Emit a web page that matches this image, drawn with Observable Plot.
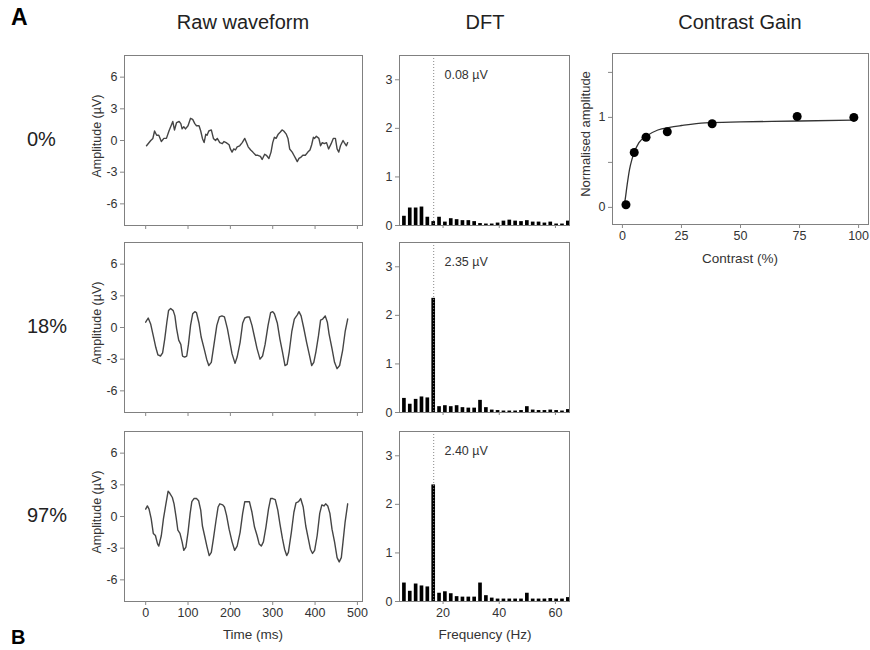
<!DOCTYPE html>
<html><head><meta charset="utf-8">
<script src="https://cdn.jsdelivr.net/npm/d3@7"></script>
<script src="https://cdn.jsdelivr.net/npm/@observablehq/plot@0.6"></script>
<style>
body{margin:0;background:#fff;font-family:"Liberation Sans",Arial,sans-serif;}
#root{position:relative;width:870px;height:650px;overflow:hidden;background:#fff;}
.t{position:absolute;color:#222;white-space:nowrap;line-height:1;}
.c{transform:translate(-50%,-50%);}
.r{transform:translate(-50%,-50%) rotate(-90deg);}
svg{position:absolute;}
</style></head><body><div id="root"></div>
<script>
// ---------- data ----------
const conditions = ["0%", "18%", "97%"];
const waveTicksX = [0, 100, 200, 300, 400, 500];
const waveTicksY = [-6, -3, 0, 3, 6];
const dftTicksX = [20, 40, 60];
const dftTicksY = [0, 1, 2, 3];
const cgTicksX = [0, 25, 50, 75, 100];
const cgTicksY = [0, 0.5, 1, 1.5];

// raw waveform 0%
const t0 = [2,12,17,21,26,31,37,43,49,55,60,64,68,73,79,83,86,90,94,100,106,111,116,120,126,130,134,138,142,145,149,155,160,165,169,175,181,185,190,197,200,204,208,212,216,222,228,234,238,242,248,253,260,265,271,275,281,285,291,296,300,304,308,313,318,322,326,332,336,340,346,350,354,358,362,366,371,377,383,388,392,396,399,403,409,413,417,422,427,432,438,443,448,452,456,460,466,469,474,477];
const v0 = [-0.5,0.0,0.2,0.9,0.5,0.5,-0.1,0.2,0.2,0.9,1.4,1.8,1.0,1.7,1.8,1.6,1.1,1.3,1.1,1.4,2.1,2.0,1.6,1.4,1.4,0.9,0.2,-0.2,0.6,0.5,0.9,1.0,0.2,0.0,0.2,-0.2,-0.3,-0.1,-0.2,-0.4,-0.8,-1.1,-0.8,-0.9,-0.6,-0.5,-0.2,0.2,-0.2,-0.6,-0.9,-1.1,-1.4,-1.4,-1.5,-1.8,-1.3,-1.4,-1.7,-1.1,-0.2,0.3,0.2,0.6,0.8,1.0,0.9,0.6,0.2,-0.8,-1.1,-1.4,-1.7,-2.0,-1.7,-1.6,-1.4,-1.4,-1.1,-0.9,-0.4,0.3,0.2,0.4,0.2,-0.5,-0.2,-0.3,-0.2,-0.8,-0.3,0.2,0.2,-0.8,-1.1,-0.5,0.0,-0.2,-0.5,-0.2];
// raw waveform 18%
const t18 = [0,6,12,18,24,29,35,40,45,50,54,59,65,69,73,78,83,87,92,97,101,106,111,116,120,126,131,138,144,149,155,161,168,174,180,186,193,199,204,211,216,223,229,234,240,245,251,257,263,270,276,282,289,295,300,304,311,317,323,329,334,339,345,351,358,362,367,373,380,386,392,397,402,408,413,418,424,429,433,440,446,452,458,465,471,477];
const v18 = [0.5,0.9,0.3,-0.8,-1.9,-2.6,-2.7,-2.4,-1.1,0.5,1.6,1.8,1.6,1.1,-0.1,-1.2,-1.6,-2.7,-2.8,-2.7,-1.6,0.2,1.3,1.5,1.4,0.4,-0.9,-2.0,-3.0,-3.6,-3.3,-1.7,0.2,1.0,1.1,1.0,-0.1,-1.4,-2.5,-3.4,-2.8,-1.4,0.4,0.9,1.0,1.0,0.2,-0.9,-2.0,-3.0,-2.7,-1.6,0.2,1.4,1.5,1.3,0.4,-1.1,-2.3,-3.6,-3.5,-2.3,-0.4,0.8,1.2,1.5,1.1,0.0,-1.4,-2.5,-3.6,-3.3,-2.3,-0.8,0.7,0.8,1.1,0.5,-0.6,-2.0,-3.3,-3.9,-3.6,-2.2,-0.4,0.8];
// raw waveform 97%
const t97 = [0,4,8,13,18,23,28,31,37,42,47,53,57,63,67,72,76,81,86,90,95,100,105,109,114,120,125,130,134,139,145,150,155,160,166,171,175,182,186,191,197,204,210,216,223,229,234,238,245,251,257,263,268,273,278,284,290,295,300,306,312,317,323,328,333,337,344,350,355,361,366,372,378,384,389,394,399,405,411,416,421,425,430,435,440,446,452,457,462,466,471,477];
const v97 = [0.7,1.0,0.7,-0.2,-1.6,-1.8,-2.6,-2.8,-1.8,-0.2,1.0,2.4,2.2,1.8,1.2,-0.1,-1.3,-1.6,-2.4,-3.2,-2.9,-1.5,0.3,1.4,1.7,1.7,1.5,0.6,-0.9,-1.8,-2.9,-3.7,-3.4,-2.1,-0.4,0.9,1.2,1.1,0.9,0.1,-1.2,-2.4,-3.2,-2.8,-1.5,0.3,1.4,1.4,1.4,0.4,-1.0,-1.8,-2.6,-2.8,-2.4,-1.0,0.7,1.7,1.7,1.6,0.6,-0.7,-2.1,-3.1,-3.7,-3.4,-1.5,0.4,1.3,1.4,1.7,0.9,-0.9,-2.1,-3.1,-3.5,-3.2,-1.8,0.3,1.1,1.0,1.2,1.0,0.3,-1.2,-2.4,-3.9,-4.3,-3.9,-2.4,-0.5,1.2];

// DFT
const freqs = [6.25,8.33,10.42,12.5,14.58,16.67,18.75,20.83,22.92,25,27.08,29.17,31.25,33.33,35.42,37.5,39.58,41.67,43.75,45.83,47.92,50,52.08,54.17,56.25,58.33,60.42,62.5,64.58];
const amp0  = [0.19,0.36,0.36,0.38,0.17,0.08,0.17,0.07,0.14,0.12,0.10,0.10,0.08,0.04,0.03,0.03,0.05,0.09,0.11,0.09,0.08,0.10,0.07,0.07,0.05,0.07,0.03,0.03,0.09];
const amp18 = [0.29,0.17,0.27,0.32,0.30,2.35,0.12,0.14,0.12,0.14,0.10,0.09,0.09,0.25,0.10,0.05,0.04,0.03,0.03,0.03,0.04,0.12,0.05,0.04,0.04,0.05,0.04,0.03,0.06];
const amp97 = [0.38,0.21,0.36,0.32,0.30,2.40,0.17,0.20,0.16,0.10,0.09,0.09,0.09,0.38,0.12,0.07,0.05,0.05,0.05,0.05,0.05,0.17,0.05,0.05,0.05,0.06,0.05,0.05,0.08];
const stimFreq = 16.67;
const peakLabels = ["0.08 µV", "2.35 µV", "2.40 µV"];

// Contrast gain
const contrast = [1.5, 5, 10, 19, 38, 74, 98];
const normAmp = [0.03, 0.61, 0.78, 0.84, 0.93, 1.01, 1.00];
const fitC = [0.5, 1, 2, 3, 4, 5, 7, 10, 15, 20, 25, 35, 50, 75, 98];
const fitA = [0.0, 0.06, 0.25, 0.42, 0.53, 0.61, 0.72, 0.79, 0.86, 0.89, 0.91, 0.94, 0.95, 0.96, 0.97];

// ---------- layout ----------
const root = document.getElementById("root");
const FONT = "Liberation Sans, Arial, Helvetica, sans-serif";
const baseStyle = {fontFamily: FONT, fontSize: "12.5px", color: "#333", background: "transparent", overflow: "visible"};

function place(el, left, top) { el.style.left = left + "px"; el.style.top = top + "px"; root.appendChild(el); }
function txt(s, x, y, size, cls, extra) {
  const d = document.createElement("div");
  d.className = "t " + cls; d.textContent = s;
  d.style.fontSize = size + "px"; d.style.left = x + "px"; d.style.top = y + "px";
  if (extra) Object.assign(d.style, extra);
  root.appendChild(d);
}

const panelTops = [55, 242, 431];
const PH = 170;
const wt = [t0, t18, t97], wv = [v0, v18, v97], amps = [amp0, amp18, amp97];

panelTops.forEach((top, i) => {
  const last = i === 2;
  const mb = last ? 30 : 12;
  // raw waveform
  const wave = Plot.plot({
    width: 64 + 238 + 8, height: 6 + PH + mb,
    marginLeft: 64, marginRight: 8, marginTop: 6, marginBottom: mb,
    x: {domain: [-50, 512]}, y: {domain: [-8.05, 8.05]},
    style: baseStyle,
    marks: [
      Plot.frame({stroke: "#808080"}),
      Plot.axisY({ticks: waveTicksY, tickSize: 4, tickPadding: 3, label: null, stroke: "#888", fill: "#333", tickFormat: d => d}),
      Plot.axisX({ticks: waveTicksX, tickSize: 4, tickPadding: 3, label: null, stroke: "#888", fill: "#333", tickFormat: last ? (d => d) : (() => "")}),
      Plot.line(wt[i].map((d, k) => ({t: d, v: wv[i][k]})), {x: "t", y: "v", stroke: "#454545", strokeWidth: 1.4})
    ]
  });
  place(wave, 124 - 64, top - 6);

  // DFT
  const rows = freqs.map((f, k) => ({f, a: amps[i][k]}));
  const dft = Plot.plot({
    width: 40 + 170 + 8, height: 6 + PH + mb,
    marginLeft: 40, marginRight: 8, marginTop: 6, marginBottom: mb,
    x: {domain: [4.5, 65]}, y: {domain: [0, 3.5]},
    style: baseStyle,
    marks: [
      Plot.rectY(rows, {x1: d => d.f - 0.65, x2: d => d.f + 0.65, y: "a", fill: "#000"}),
      Plot.ruleX([stimFreq], {stroke: "#888", strokeWidth: 1, strokeDasharray: "1,2"}),
      Plot.text([peakLabels[i]], {x: 20.5, y: 3.1, text: d => d, textAnchor: "start", fontSize: 12.5, fill: "#333"}),
      Plot.frame({stroke: "#808080"}),
      Plot.axisY({ticks: dftTicksY, tickSize: 4, tickPadding: 3, label: null, stroke: "#888", fill: "#333", tickFormat: d => d}),
      Plot.axisX({ticks: dftTicksX, tickSize: 3, tickPadding: 4, label: null, stroke: "#888", fill: "#333", tickFormat: last ? (d => d) : (() => "")})
    ]
  });
  place(dft, 399 - 40, top - 6);

  // condition label & y-axis label
  txt(conditions[i], 27, [140, 327, 516][i] - 11, 20, "", {});
  txt("Amplitude (µV)", 97, [136, 323, 512][i], 12.5, "r", {color: "#333"});
});

// Contrast gain
const cg = Plot.plot({
  width: 42 + 256 + 2, height: 6 + 171 + 30,
  marginLeft: 42, marginRight: 2, marginTop: 6, marginBottom: 30,
  x: {domain: [-4.2, 104.2]}, y: {domain: [-0.19, 1.71]},
  style: baseStyle,
  marks: [
    Plot.frame({stroke: "#808080"}),
    Plot.axisY({ticks: cgTicksY, tickSize: 4, tickPadding: 3, label: null, stroke: "#888", fill: "#333", tickFormat: d => (d % 1 === 0 ? d : "")}),
    Plot.axisX({ticks: cgTicksX, tickSize: 4, tickPadding: 3, label: null, stroke: "#888", fill: "#333", tickFormat: d => d}),
    Plot.line(fitC.map((c, k) => ({c, a: fitA[k]})), {x: "c", y: "a", stroke: "#333", strokeWidth: 1.3, curve: "monotone-x"}),
    Plot.dot(contrast.map((c, k) => ({c, a: normAmp[k]})), {x: "c", y: "a", r: 4.5, fill: "#000", stroke: "none"})
  ]
});
place(cg, 612 - 42, 53 - 6);

// titles and labels
txt("A", 11, 6, 23, "", {fontWeight: "bold", color: "#000"});
txt("B", 11, 627, 20, "", {fontWeight: "bold", color: "#000"});
txt("Raw waveform", 243, 22, 20, "c");
txt("DFT", 485, 22, 20, "c");
txt("Contrast Gain", 740, 22, 20, "c");
txt("Time (ms)", 253, 635, 13.5, "c", {color: "#333"});
txt("Frequency (Hz)", 485, 635, 13.5, "c", {color: "#333"});
txt("Contrast (%)", 740, 259, 13.5, "c", {color: "#333"});
txt("Normalised amplitude", 585, 134, 13, "r", {color: "#333"});
</script></body></html>
